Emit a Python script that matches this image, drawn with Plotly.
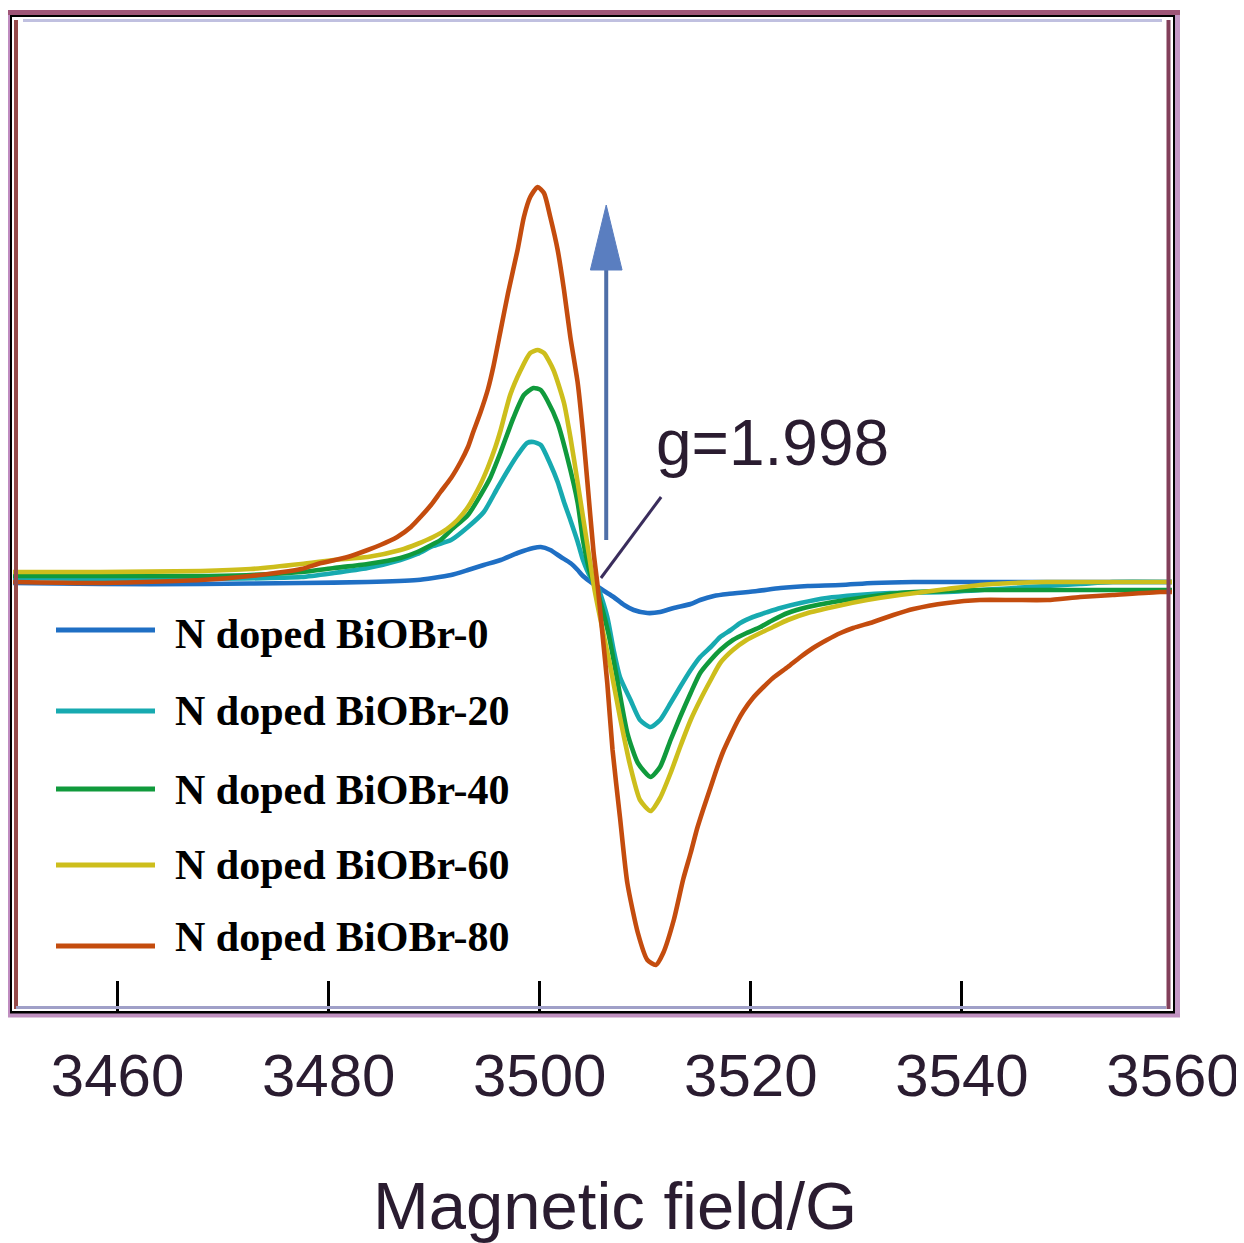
import plotly.graph_objects as go

# ---------------- data (y in arbitrary units) ----------------
field_0 = [3450.1, 3458.4, 3467.9, 3477.4, 3483.7, 3488.4, 3489.9, 3491.6, 3493.2, 3494.7,
           3496.3, 3497.9, 3499.4, 3500.1, 3501.0, 3502.0, 3502.9, 3503.6, 3504.1, 3505.1,
           3506.1, 3507.0, 3508.0, 3508.9, 3510.2, 3511.4, 3512.7, 3514.3, 3515.2, 3516.5,
           3517.8, 3520.6, 3522.8, 3525.4, 3528.5, 3531.6, 3535.4, 3541.7, 3559.9]
signal_0 = [-1, -2, -2, -1, 0, 2, 4, 7, 12, 17,
            22, 29, 34, 35, 32, 25, 19, 12, 6, -2,
            -9, -15, -23, -28, -31, -30, -26, -22, -18, -14,
            -12, -9, -6, -4, -3, -1, 0, 0, 0]

field_20 = [3450.1, 3458.4, 3467.9, 3477.4, 3480.5, 3483.7, 3486.8, 3488.4, 3489.9, 3491.6,
            3493.2, 3494.7, 3496.0, 3497.0, 3497.9, 3498.8, 3499.4, 3500.1, 3501.0, 3501.7,
            3502.3, 3502.9, 3503.6, 3504.1, 3504.8, 3505.5, 3506.4, 3507.0, 3507.6, 3508.6,
            3509.5, 3510.5, 3511.4, 3512.4, 3513.3, 3514.3, 3515.2, 3516.2, 3517.1, 3518.1,
            3519.0, 3520.2, 3521.6, 3522.8, 3524.7, 3527.2, 3530.1, 3533.2, 3538.6, 3544.9,
            3551.2, 3554.3, 3559.9]
signal_20 = [4, 3, 3, 5, 9, 14, 22, 28, 36, 42,
             55, 70, 94, 112, 127, 139, 140, 137, 118, 100,
             80, 62, 40, 22, 5, -5, -35, -68, -95, -118,
             -138, -145, -138, -121, -105, -88, -75, -65, -55, -48,
             -41, -35, -30, -26, -21, -16, -13, -11, -10, -6,
             -2, 0, 0]

field_40 = [3450.1, 3458.4, 3467.9, 3472.6, 3477.4, 3480.5, 3483.7, 3486.8, 3488.4, 3489.9,
            3490.6, 3491.6, 3493.2, 3494.4, 3495.3, 3496.3, 3497.5, 3498.5, 3499.4, 3500.1,
            3500.7, 3501.7, 3502.6, 3503.6, 3504.1, 3504.8, 3505.4, 3506.5, 3507.4, 3508.3,
            3509.3, 3510.5, 3511.4, 3512.4, 3513.3, 3514.3, 3515.2, 3516.2, 3517.1, 3518.3,
            3519.6, 3520.9, 3522.1, 3523.5, 3525.4, 3527.8, 3531.0, 3534.1, 3538.6, 3541.7,
            3548.1, 3554.3, 3559.9]
signal_40 = [6, 6, 6, 7, 10, 14, 18, 24, 30, 38,
             42, 52, 67, 87, 104, 130, 164, 187, 194, 192,
             182, 159, 125, 79, 42, 8, -8, -51, -101, -151,
             -181, -195, -185, -158, -135, -111, -91, -78, -68, -58,
             -51, -45, -38, -31, -25, -20, -15, -11, -9, -8,
             -8, -8, -8]

field_60 = [3450.1, 3458.4, 3467.9, 3472.6, 3477.4, 3480.5, 3483.7, 3486.8, 3488.4, 3489.9,
            3491.2, 3492.2, 3493.2, 3494.4, 3495.1, 3495.8, 3496.3, 3497.2, 3498.2, 3499.1,
            3499.8, 3500.4, 3501.3, 3502.3, 3502.9, 3503.6, 3504.1, 3504.8, 3505.2, 3506.0,
            3506.7, 3507.6, 3508.6, 3509.5, 3510.5, 3511.4, 3512.4, 3513.3, 3514.3, 3515.2,
            3516.2, 3517.1, 3518.3, 3519.6, 3520.9, 3522.1, 3523.5, 3525.4, 3527.8, 3531.0,
            3534.1, 3538.6, 3541.7, 3544.9, 3548.1, 3554.3, 3559.9]
signal_60 = [10, 10, 11, 13, 18, 22, 25, 32, 38, 45,
             53, 62, 75, 98, 115, 135, 152, 187, 212, 229,
             232, 229, 212, 179, 145, 99, 65, 18, -8, -50,
             -85, -135, -185, -218, -229, -216, -191, -165, -138, -118,
             -98, -81, -68, -58, -51, -45, -38, -31, -25, -18,
             -13, -7, -3, -1, 0, 0, 0]

field_80 = [3450.1, 3458.4, 3467.9, 3472.6, 3477.4, 3479.3, 3481.8, 3483.7, 3484.9, 3486.5,
            3487.8, 3488.7, 3489.7, 3490.6, 3491.6, 3492.5, 3493.2, 3493.7, 3494.4, 3495.1,
            3495.6, 3496.3, 3497.0, 3497.9, 3498.5, 3499.1, 3499.8, 3500.4, 3501.0, 3501.7,
            3502.3, 3502.9, 3503.6, 3504.1, 3504.5, 3505.1, 3505.5, 3506.0, 3506.4, 3506.9,
            3507.6, 3508.3, 3509.3, 3510.2, 3511.0, 3511.7, 3512.7, 3513.6, 3514.3, 3514.9,
            3515.5, 3516.2, 3516.8, 3517.4, 3518.1, 3518.7, 3519.3, 3520.2, 3521.2, 3522.1,
            3523.5, 3524.7, 3525.9, 3527.2, 3528.5, 3529.7, 3531.6, 3533.5, 3535.4, 3538.6,
            3541.7, 3544.9, 3548.1, 3551.2, 3554.3, 3558.8, 3559.9]
signal_80 = [0, -1, 2, 6, 13, 19, 25, 32, 37, 45,
             55, 65, 77, 90, 104, 120, 135, 150, 170, 193,
             215, 252, 289, 332, 365, 385, 395, 389, 365, 332,
             292, 245, 199, 149, 102, 30, -5, -58, -101, -168,
             -235, -301, -351, -378, -383, -371, -338, -297, -271, -247,
             -227, -205, -186, -169, -153, -140, -129, -116, -105, -96,
             -85, -75, -66, -58, -51, -46, -40, -33, -27, -21,
             -18, -18, -18, -15, -13, -10, -10]

series_names = ["N doped BiOBr-0", "N doped BiOBr-20", "N doped BiOBr-40",
                "N doped BiOBr-60", "N doped BiOBr-80"]
series_colors = ["#1F6FC4", "#17AAB0", "#109A3C", "#CDBE1C", "#C44C0E"]
fields = [field_0, field_20, field_40, field_60, field_80]
signals = [signal_0, signal_20, signal_40, signal_60, signal_80]

tick_values = [3460, 3480, 3500, 3520, 3540, 3560]
x_label = "Magnetic field/G"
g_label = "g=1.998"
g_crossing = (3505.8, 4)      # where the g-value leader touches the curves
g_text_pos = (3511.5, 85)     # end of leader near the label
arrow_x = 3506.3
arrow_from, arrow_to = 42, 377

# ---------------- figure ----------------
# the page body has an 8px margin, so the figure is drawn 8px right/down
OFF = 8
W, H = 1244 - OFF, 1243 - OFF
L, R, T, B = 12, 1173, 17, 1011   # plot-area box in screenshot pixels
SANS = "Liberation Sans, Arial, sans-serif"


def px(x):
    return (x - L) / (R - L)


def py(y):
    return (B - y) / (B - T)


fig = go.Figure()
for f, s, n, c in zip(fields, signals, series_names, series_colors):
    fig.add_trace(go.Scatter(x=f, y=s, mode="lines", name=n,
                             line=dict(color=c, width=4.6, shape="spline", smoothing=0.6),
                             showlegend=False))

shapes = []
# frame decorations (outer purple, inner tints)
shapes.append(dict(type="line", xref="paper", yref="paper", x0=px(9), x1=px(9), y0=py(12), y1=py(1016),
                   line=dict(color="#BF8CC0", width=2), layer="above"))
shapes.append(dict(type="line", xref="paper", yref="paper", x0=px(1177.5), x1=px(1177.5), y0=py(12), y1=py(1016),
                   line=dict(color="#C498C6", width=5), layer="above"))
shapes.append(dict(type="line", xref="paper", yref="paper", x0=px(8), x1=px(1180), y0=py(12.5), y1=py(12.5),
                   line=dict(color="#9E5577", width=5), layer="above"))
shapes.append(dict(type="line", xref="paper", yref="paper", x0=px(8), x1=px(1180), y0=py(1015.5), y1=py(1015.5),
                   line=dict(color="#C090C0", width=4), layer="above"))
shapes.append(dict(type="line", xref="paper", yref="paper", x0=px(16), x1=px(16), y0=py(20), y1=py(1009),
                   line=dict(color="#954A4A", width=4), layer="above"))
shapes.append(dict(type="line", xref="paper", yref="paper", x0=px(1168.5), x1=px(1168.5), y0=py(20), y1=py(1009),
                   line=dict(color="#823F5A", width=4), layer="above"))
shapes.append(dict(type="line", xref="paper", yref="paper", x0=px(23), x1=px(1162), y0=py(20.5), y1=py(20.5),
                   line=dict(color="#C0C0E0", width=3), layer="above"))
shapes.append(dict(type="line", xref="paper", yref="paper", x0=px(16), x1=px(1166), y0=py(1007.5), y1=py(1007.5),
                   line=dict(color="#A0A0C8", width=3), layer="above"))

# big vertical arrow
head_base = arrow_to - 65
shapes.append(dict(type="line", xref="x", yref="y", x0=arrow_x, x1=arrow_x, y0=arrow_from, y1=head_base + 5,
                   line=dict(color="#4F6FA8", width=4)))
shapes.append(dict(type="path", xref="x", yref="y",
                   path=f"M {arrow_x - 1.5} {head_base} L {arrow_x + 1.5} {head_base} L {arrow_x} {arrow_to} Z",
                   fillcolor="#5A7EC0", line=dict(color="#5A7EC0", width=1)))
# leader line to g-label
shapes.append(dict(type="line", xref="x", yref="y", x0=g_crossing[0], y0=g_crossing[1],
                   x1=g_text_pos[0], y1=g_text_pos[1], line=dict(color="#3A2D5C", width=3)))

annotations = [dict(x=3510.8, y=139, xref="x", yref="y", text=g_label, showarrow=False,
                    xanchor="left", yanchor="middle",
                    font=dict(family=SANS, size=64, color="#2A1C30"))]

# axis title, centred where the reference puts it
annotations.append(dict(x=px(615), y=py(1205), xref="paper", yref="paper", text=x_label,
                        showarrow=False, xanchor="center", yanchor="middle",
                        font=dict(family=SANS, size=67, color="#2A1C30")))

# hand-drawn legend
legend_line_y = [630, 711, 789, 865, 946]
legend_text_y = [634, 711, 790, 865, 937]
for i, (n, c) in enumerate(zip(series_names, series_colors)):
    shapes.append(dict(type="line", xref="paper", yref="paper", x0=px(56), x1=px(155),
                       y0=py(legend_line_y[i]), y1=py(legend_line_y[i]),
                       line=dict(color=c, width=5)))
    annotations.append(dict(x=px(173), y=py(legend_text_y[i]), xref="paper", yref="paper", text=n,
                            showarrow=False, xanchor="left", yanchor="middle",
                            font=dict(family="Liberation Serif, Times New Roman, serif", size=42,
                                      color="#000000", weight="bold")))

fig.update_layout(
    width=W, height=H, autosize=False,
    margin=dict(l=L - OFF, r=W - (R - OFF), t=T - OFF, b=H - (B - OFF), pad=0),
    paper_bgcolor="white", plot_bgcolor="white",
    shapes=shapes, annotations=annotations,
    xaxis=dict(range=[3450, 3560], tickvals=tick_values, ticks="inside", ticklen=30, tickwidth=3,
               tickcolor="black", showline=True, linewidth=4, linecolor="black", mirror=True,
               showgrid=False, zeroline=False, automargin=False, ticklabelstandoff=9,
               ticklabeloverflow="allow",
               tickfont=dict(family=SANS, size=60, color="#2A1C30")),
    yaxis=dict(range=[-429, 565], showticklabels=False, ticks="", showline=True, linewidth=4,
               linecolor="black", mirror=True, showgrid=False, zeroline=False, automargin=False),
)

fig.write_html("out.html")
